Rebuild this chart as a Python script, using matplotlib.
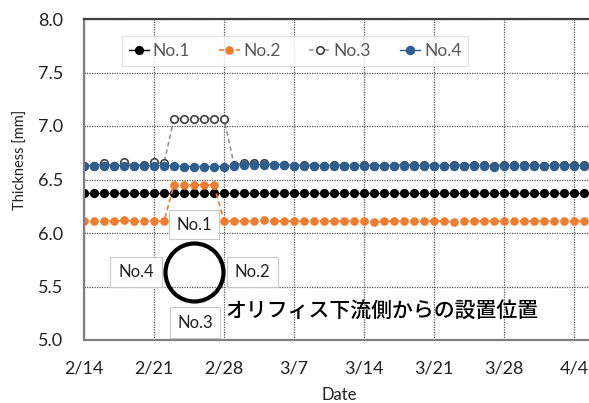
import matplotlib
matplotlib.use("Agg")
import matplotlib.pyplot as plt
from matplotlib.patches import Rectangle, Ellipse
import pandas as pd

plt.rcParams['font.family'] = ['Lato', 'Noto Sans CJK JP', 'DejaVu Sans']

# Daily thickness readings, 2/14 – 4/5
dates = pd.date_range("2023-02-14", "2023-04-05", freq="D")

no1 = [6.37, 6.37, 6.37, 6.37, 6.37, 6.37, 6.37, 6.37, 6.37, 6.37,
       6.37, 6.37, 6.37, 6.37, 6.37, 6.37, 6.37, 6.37, 6.37, 6.37,
       6.37, 6.37, 6.37, 6.37, 6.37, 6.37, 6.37, 6.37, 6.37, 6.37,
       6.37, 6.37, 6.37, 6.37, 6.37, 6.37, 6.37, 6.37, 6.37, 6.37,
       6.37, 6.37, 6.37, 6.37, 6.37, 6.37, 6.37, 6.37, 6.37, 6.37, 6.37]

no2 = [6.11, 6.11, 6.11, 6.11, 6.12, 6.11, 6.11, 6.11, 6.11, 6.45,
       6.45, 6.45, 6.45, 6.45, 6.11, 6.11, 6.11, 6.11, 6.12, 6.11,
       6.11, 6.11, 6.11, 6.11, 6.11, 6.11, 6.11, 6.11, 6.11, 6.10,
       6.11, 6.11, 6.11, 6.11, 6.11, 6.11, 6.11, 6.10, 6.11, 6.11,
       6.11, 6.11, 6.11, 6.11, 6.11, 6.11, 6.11, 6.11, 6.11, 6.11, 6.11]

no3 = [6.63, 6.63, 6.65, 6.63, 6.66, 6.63, 6.64, 6.66, 6.65, 7.07,
       7.07, 7.07, 7.07, 7.07, 7.07, 6.64, 6.65, 6.65, 6.65, 6.64,
       6.64, 6.63, 6.64, 6.63, 6.63, 6.64, 6.63, 6.63, 6.64, 6.63,
       6.63, 6.63, 6.64, 6.64, 6.64, 6.63, 6.63, 6.64, 6.63, 6.64,
       6.64, 6.63, 6.64, 6.64, 6.64, 6.64, 6.63, 6.64, 6.64, 6.64, 6.64]

no4 = [6.63, 6.63, 6.63, 6.63, 6.63, 6.63, 6.63, 6.63, 6.63, 6.63,
       6.62, 6.62, 6.62, 6.62, 6.62, 6.63, 6.64, 6.64, 6.64, 6.64,
       6.64, 6.63, 6.63, 6.63, 6.63, 6.63, 6.63, 6.63, 6.63, 6.63,
       6.63, 6.63, 6.63, 6.63, 6.63, 6.63, 6.63, 6.63, 6.63, 6.63,
       6.63, 6.62, 6.63, 6.63, 6.63, 6.63, 6.63, 6.63, 6.63, 6.63, 6.63]

tick_labels = ["2/14", "2/21", "2/28", "3/7", "3/14", "3/21", "3/28", "4/4"]
y_ticks = [5.0, 5.5, 6.0, 6.5, 7.0, 7.5, 8.0]

W, H = 589, 403
fig = plt.figure(figsize=(W / 100, H / 100), dpi=100)


def fx(px):
    return px / W


def fy(py):
    return 1 - py / H


ax = fig.add_axes([fx(84), fy(340), (594 - 84) / W, (340 - 19) / H])

ax.plot(dates, no1, color="black", lw=1.0, marker="o", ms=5.6,
        mec="black", mfc="black", label="No.1")
ax.plot(dates, no2, color="#ED7D31", lw=1.2, ls=(0, (3, 2)), marker="o",
        ms=5.2, mec="#ED7D31", mfc="#ED7D31", label="No.2")
ax.plot(dates, no3, color="#8C8C8C", lw=1.1, ls=(0, (3, 2)), marker="o",
        ms=5.4, mec="#404040", mfc="white", mew=1.2, label="No.3")
ax.plot(dates, no4, color="#2E5E8E", lw=1.0, marker="o", ms=5.8,
        mec="#2E5E8E", mfc="#2E5E8E", label="No.4")

ax.set_xlim(dates[0], dates[0] + pd.Timedelta(days=51))
ax.set_ylim(5.0, 8.0)
ax.set_xticks(dates[::7][:len(tick_labels)])
ax.set_xticklabels(tick_labels)
ax.set_yticks(y_ticks)
ax.set_yticklabels([f"{v:.1f}" for v in y_ticks])
ax.tick_params(axis="both", length=0, labelsize=13, colors="#222222")
ax.tick_params(axis="y", pad=15)
ax.tick_params(axis="x", pad=15)

ax.grid(True, ls=(0, (1, 1)), color="#555555", lw=0.9)
ax.set_axisbelow(True)
for side in ("left", "bottom", "top"):
    ax.spines[side].set_color("#7F7F7F")
    ax.spines[side].set_linewidth(1.6)
ax.spines["top"].set_color("#404040")
ax.spines["right"].set_visible(False)

fig.text(fx(339.5), fy(395), "Date", ha="center", va="center",
         fontsize=12, color="#222222")
fig.text(fx(21), fy(160), "Thickness [mm]", ha="center", va="center",
         rotation=90, fontsize=10.5, color="#222222")

leg = ax.legend(loc="center", bbox_to_anchor=(fx(295), fy(51)),
                bbox_transform=fig.transFigure, ncol=4, frameon=True,
                fancybox=False, edgecolor="#D9D9D9", fontsize=12.5,
                handlelength=1.2, handletextpad=0.2, columnspacing=1.65,
                borderpad=0.4, borderaxespad=0)
leg.get_frame().set_linewidth(0.8)
for t in leg.get_texts():
    t.set_color("#595959")

# Sensor placement sketch: pipe cross-section with labelled positions
boxes = [("No.1", 169, 210, 219, 239),
         ("No.4", 110, 257, 162, 287),
         ("No.2", 227, 257, 278, 287),
         ("No.3", 170, 307, 220, 338)]
for label, x0, y0, x1, y1 in boxes:
    fig.add_artist(Rectangle((fx(x0), fy(y1)), (x1 - x0) / W, (y1 - y0) / H,
                             transform=fig.transFigure, facecolor="white",
                             edgecolor="#C8C8C8", lw=0.8, zorder=5))
    fig.text(fx((x0 + x1) / 2), fy((y0 + y1) / 2), label, ha="center",
             va="center", fontsize=12, color="#222222", zorder=6)

fig.add_artist(Ellipse((fx(194.5), fy(272.5)), 58 / W, 58 / H,
                       transform=fig.transFigure, fill=False,
                       edgecolor="black", lw=3.0, zorder=5))

fig.text(fx(225), fy(312), "オリフィス下流側からの設置位置", ha="left",
         va="center", fontsize=15, family=["Noto Sans CJK JP"],
         weight="medium", color="black", zorder=6)

fig.savefig("out.png", dpi=100)
